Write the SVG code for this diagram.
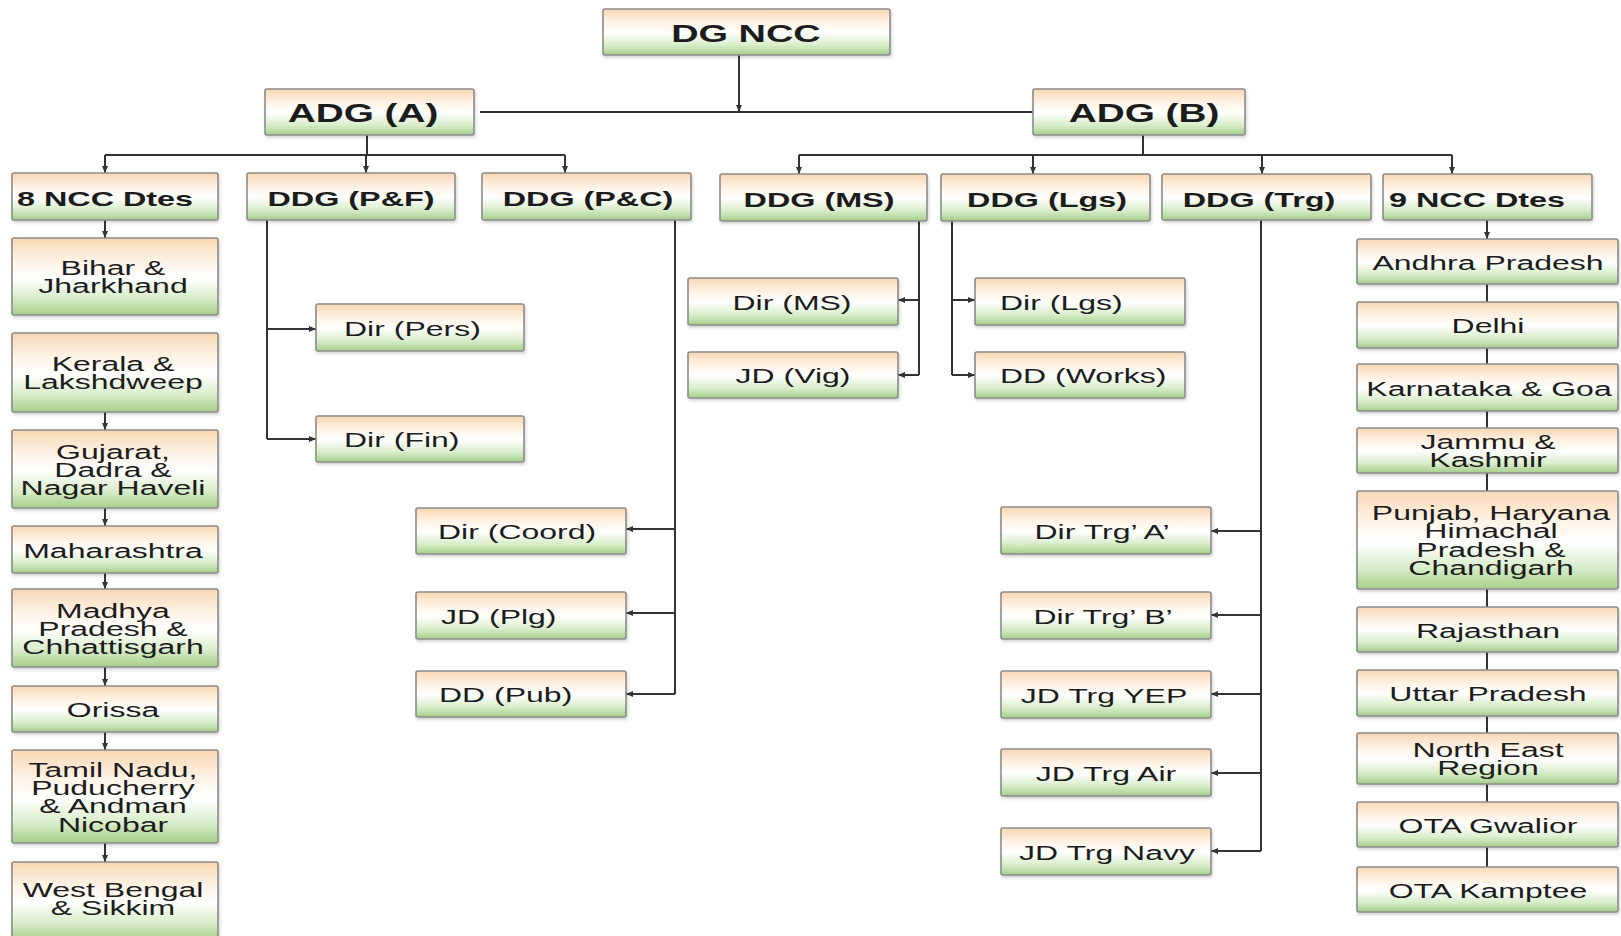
<svg xmlns="http://www.w3.org/2000/svg" width="1621" height="936" viewBox="0 0 1621 936">
<defs>
<linearGradient id="g" x1="0" y1="0" x2="0" y2="1">
<stop offset="0" stop-color="#f9d7b4"/>
<stop offset="0.3" stop-color="#fff3e6"/>
<stop offset="0.52" stop-color="#ffffff"/>
<stop offset="0.78" stop-color="#d9edcb"/>
<stop offset="1" stop-color="#a6cf8a"/>
</linearGradient>
<filter id="sh" x="-5%" y="-10%" width="112%" height="130%">
<feDropShadow dx="1" dy="2" stdDeviation="1.5" flood-color="#000" flood-opacity="0.18"/>
</filter>
<marker id="ar" markerUnits="userSpaceOnUse" markerWidth="7" markerHeight="6" refX="7" refY="3" orient="auto">
<path d="M0,0 L7,3 L0,6 z" fill="#333"/>
</marker>
<style>
rect.b{fill:url(#g);stroke:#8c8c8c;stroke-width:1.6;filter:url(#sh)}
text{font-family:"Liberation Sans",Arial,sans-serif;fill:#1c1c1c}
.t0{font-size:24px;font-weight:bold;text-anchor:middle}
.t1{font-size:25px;font-weight:bold;text-anchor:middle}
.t2{font-size:21px;font-weight:bold;text-anchor:middle}
.t2s{font-size:21px;font-weight:bold;text-anchor:start}
.c{font-size:20px;text-anchor:middle}
.cs{font-size:20px;text-anchor:start}
.ln{fill:none;stroke:#333;stroke-width:2}
.la{fill:none;stroke:#333;stroke-width:2;marker-end:url(#ar)}
</style>
</defs>
<rect width="1621" height="936" fill="#ffffff"/>

<g id="connectors">
<path class="la" d="M739,55 V112"/>
<path class="ln" d="M480,112 H1033"/>
<path class="ln" d="M367,135 V155"/>
<path class="ln" d="M105,155 H565"/>
<path class="la" d="M105,155 V173"/>
<path class="la" d="M366,155 V173"/>
<path class="la" d="M565,155 V173"/>
<path class="ln" d="M1143,135 V155"/>
<path class="ln" d="M799,155 H1452"/>
<path class="la" d="M799,155 V174"/>
<path class="la" d="M1033,155 V174"/>
<path class="la" d="M1262,155 V174"/>
<path class="la" d="M1452,155 V174"/>
<!-- left column -->
<path class="la" d="M105,220 V238"/>
<path class="la" d="M105,412 V430"/>
<path class="la" d="M105,508 V526"/>
<path class="la" d="M105,573 V589"/>
<path class="la" d="M105,667 V686"/>
<path class="la" d="M105,732 V750"/>
<path class="la" d="M105,843 V862"/>
<!-- P&F -->
<path class="ln" d="M267,220 V439"/>
<path class="la" d="M267,329 H316"/>
<path class="la" d="M267,439 H316"/>
<!-- P&C -->
<path class="ln" d="M675,220 V694"/>
<path class="la" d="M675,529 H626"/>
<path class="la" d="M675,613 H626"/>
<path class="la" d="M675,694 H626"/>
<!-- MS -->
<path class="ln" d="M919,221 V375"/>
<path class="la" d="M919,300 H898"/>
<path class="la" d="M919,375 H898"/>
<!-- Lgs -->
<path class="ln" d="M952,221 V375"/>
<path class="la" d="M952,300 H975"/>
<path class="la" d="M952,375 H975"/>
<!-- Trg -->
<path class="ln" d="M1261,220 V851"/>
<path class="la" d="M1261,531 H1211"/>
<path class="la" d="M1261,615 H1211"/>
<path class="la" d="M1261,694 H1211"/>
<path class="la" d="M1261,773 H1211"/>
<path class="la" d="M1261,851 H1211"/>
<!-- right column -->
<path class="la" d="M1487,220 V239"/>
<path class="ln" d="M1487,284 V302 M1487,348 V364 M1487,411 V428 M1487,473 V491 M1487,589 V607 M1487,652 V670 M1487,716 V733 M1487,784 V802 M1487,847 V867"/>
</g>

<g id="dg-ncc"><rect class="b" x="603" y="9" width="287" height="46" rx="2"/><text class="t0" transform="translate(746,42) scale(1.58,1)">DG NCC</text></g>
<g id="adg-a"><rect class="b" x="265" y="89" width="209" height="46" rx="2"/><text class="t1" transform="translate(363,122) scale(1.55,1)">ADG (A)</text></g>
<g id="adg-b"><rect class="b" x="1033" y="89" width="212" height="46" rx="2"/><text class="t1" transform="translate(1144,122) scale(1.55,1)">ADG (B)</text></g>

<g id="ncc8"><rect class="b" x="12" y="173" width="206" height="47" rx="2"/><text class="t2s" transform="translate(17,206) scale(1.54,1)">8 NCC Dtes</text></g>
<g id="ddg-pf"><rect class="b" x="247" y="173" width="208" height="47" rx="2"/><text class="t2" transform="translate(351,206) scale(1.54,1)">DDG (P&amp;F)</text></g>
<g id="ddg-pc"><rect class="b" x="482" y="173" width="209" height="47" rx="2"/><text class="t2" transform="translate(588,206) scale(1.54,1)">DDG (P&amp;C)</text></g>
<g id="ddg-ms"><rect class="b" x="720" y="174" width="207" height="47" rx="2"/><text class="t2" transform="translate(819,207) scale(1.54,1)">DDG (MS)</text></g>
<g id="ddg-lgs"><rect class="b" x="941" y="174" width="209" height="47" rx="2"/><text class="t2" transform="translate(1047,207) scale(1.54,1)">DDG (Lgs)</text></g>
<g id="ddg-trg"><rect class="b" x="1162" y="174" width="209" height="46" rx="2"/><text class="t2" transform="translate(1259,207) scale(1.54,1)">DDG (Trg)</text></g>
<g id="ncc9"><rect class="b" x="1383" y="174" width="209" height="46" rx="2"/><text class="t2s" transform="translate(1389,207) scale(1.54,1)">9 NCC Dtes</text></g>

<g id="bihar"><rect class="b" x="12" y="238" width="206" height="77" rx="2"/><text class="c" transform="translate(113,275) scale(1.6,1)"><tspan x="0">Bihar &amp;</tspan><tspan x="0" dy="18.5">Jharkhand</tspan></text></g>
<g id="kerala"><rect class="b" x="12" y="333" width="206" height="79" rx="2"/><text class="c" transform="translate(113,371) scale(1.6,1)"><tspan x="0">Kerala &amp;</tspan><tspan x="0" dy="18.5">Lakshdweep</tspan></text></g>
<g id="gujarat"><rect class="b" x="12" y="430" width="206" height="78" rx="2"/><text class="c" transform="translate(113,458.5) scale(1.6,1)"><tspan x="0">Gujarat,</tspan><tspan x="0" dy="18.5">Dadra &amp;</tspan><tspan x="0" dy="18.5">Nagar Haveli</tspan></text></g>
<g id="maharashtra"><rect class="b" x="12" y="526" width="206" height="47" rx="2"/><text class="c" transform="translate(113,557.5) scale(1.6,1)">Maharashtra</text></g>
<g id="madhya"><rect class="b" x="12" y="589" width="206" height="78" rx="2"/><text class="c" transform="translate(113,617.5) scale(1.6,1)"><tspan x="0">Madhya</tspan><tspan x="0" dy="18.5">Pradesh &amp;</tspan><tspan x="0" dy="18.5">Chhattisgarh</tspan></text></g>
<g id="orissa"><rect class="b" x="12" y="686" width="206" height="46" rx="2"/><text class="c" transform="translate(113,717) scale(1.6,1)">Orissa</text></g>
<g id="tamil"><rect class="b" x="12" y="750" width="206" height="93" rx="2"/><text class="c" transform="translate(113,776.5) scale(1.6,1)"><tspan x="0">Tamil Nadu,</tspan><tspan x="0" dy="18.5">Puducherry</tspan><tspan x="0" dy="18.5">&amp; Andman</tspan><tspan x="0" dy="18.5">Nicobar</tspan></text></g>
<g id="westbengal"><rect class="b" x="12" y="862" width="206" height="78" rx="2"/><text class="c" transform="translate(113,897) scale(1.6,1)"><tspan x="0">West Bengal</tspan><tspan x="0" dy="18.5">&amp; Sikkim</tspan></text></g>

<g id="dir-pers"><rect class="b" x="316" y="304" width="208" height="47" rx="2"/><text class="cs" transform="translate(344,335.5) scale(1.6,1)">Dir (Pers)</text></g>
<g id="dir-fin"><rect class="b" x="316" y="416" width="208" height="46" rx="2"/><text class="cs" transform="translate(344,447) scale(1.6,1)">Dir (Fin)</text></g>
<g id="dir-coord"><rect class="b" x="416" y="508" width="210" height="46" rx="2"/><text class="cs" transform="translate(438,539) scale(1.6,1)">Dir (Coord)</text></g>
<g id="jd-plg"><rect class="b" x="416" y="592" width="210" height="47" rx="2"/><text class="cs" transform="translate(441,623.5) scale(1.6,1)">JD (Plg)</text></g>
<g id="dd-pub"><rect class="b" x="416" y="671" width="210" height="46" rx="2"/><text class="cs" transform="translate(439,702) scale(1.6,1)">DD (Pub)</text></g>

<g id="dir-ms"><rect class="b" x="688" y="278" width="210" height="47" rx="2"/><text class="c" transform="translate(792,309.5) scale(1.6,1)">Dir (MS)</text></g>
<g id="jd-vig"><rect class="b" x="688" y="352" width="210" height="46" rx="2"/><text class="c" transform="translate(793,383) scale(1.6,1)">JD (Vig)</text></g>
<g id="dir-lgs"><rect class="b" x="975" y="278" width="210" height="47" rx="2"/><text class="cs" transform="translate(1000,309.5) scale(1.6,1)">Dir (Lgs)</text></g>
<g id="dd-works"><rect class="b" x="975" y="352" width="210" height="46" rx="2"/><text class="cs" transform="translate(1000,383) scale(1.6,1)">DD (Works)</text></g>

<g id="dir-trg-a"><rect class="b" x="1001" y="507" width="210" height="47" rx="2"/><text class="c" transform="translate(1102,538.5) scale(1.6,1)">Dir Trg’ A’</text></g>
<g id="dir-trg-b"><rect class="b" x="1001" y="592" width="210" height="47" rx="2"/><text class="c" transform="translate(1103,623.5) scale(1.6,1)">Dir Trg’ B’</text></g>
<g id="jd-trg-yep"><rect class="b" x="1001" y="671" width="210" height="47" rx="2"/><text class="c" transform="translate(1104,702.5) scale(1.6,1)">JD Trg YEP</text></g>
<g id="jd-trg-air"><rect class="b" x="1001" y="749" width="210" height="47" rx="2"/><text class="c" transform="translate(1106,780.5) scale(1.6,1)">JD Trg Air</text></g>
<g id="jd-trg-navy"><rect class="b" x="1001" y="828" width="210" height="47" rx="2"/><text class="c" transform="translate(1107,859.5) scale(1.6,1)">JD Trg Navy</text></g>

<g id="andhra"><rect class="b" x="1357" y="239" width="261" height="45" rx="2"/><text class="c" transform="translate(1488,269.5) scale(1.6,1)">Andhra Pradesh</text></g>
<g id="delhi"><rect class="b" x="1357" y="302" width="261" height="46" rx="2"/><text class="c" transform="translate(1488,333) scale(1.6,1)">Delhi</text></g>
<g id="karnataka"><rect class="b" x="1357" y="364" width="261" height="47" rx="2"/><text class="c" transform="translate(1489,395.5) scale(1.6,1)">Karnataka &amp; Goa</text></g>
<g id="jammu"><rect class="b" x="1357" y="428" width="261" height="45" rx="2"/><text class="c" transform="translate(1488,449) scale(1.6,1)"><tspan x="0">Jammu &amp;</tspan><tspan x="0" dy="18.5">Kashmir</tspan></text></g>
<g id="punjab"><rect class="b" x="1357" y="491" width="261" height="98" rx="2"/><text class="c" transform="translate(1491,520) scale(1.6,1)"><tspan x="0">Punjab, Haryana</tspan><tspan x="0" dy="18.5">Himachal</tspan><tspan x="0" dy="18.5">Pradesh &amp;</tspan><tspan x="0" dy="18.5">Chandigarh</tspan></text></g>
<g id="rajasthan"><rect class="b" x="1357" y="607" width="261" height="45" rx="2"/><text class="c" transform="translate(1488,637.5) scale(1.6,1)">Rajasthan</text></g>
<g id="uttar"><rect class="b" x="1357" y="670" width="261" height="46" rx="2"/><text class="c" transform="translate(1488,701) scale(1.6,1)">Uttar Pradesh</text></g>
<g id="northeast"><rect class="b" x="1357" y="733" width="261" height="51" rx="2"/><text class="c" transform="translate(1488,757) scale(1.6,1)"><tspan x="0">North East</tspan><tspan x="0" dy="18.5">Region</tspan></text></g>
<g id="ota-gwalior"><rect class="b" x="1357" y="802" width="261" height="45" rx="2"/><text class="c" transform="translate(1488,832.5) scale(1.6,1)">OTA Gwalior</text></g>
<g id="ota-kamptee"><rect class="b" x="1357" y="867" width="261" height="45" rx="2"/><text class="c" transform="translate(1488,897.5) scale(1.6,1)">OTA Kamptee</text></g>
</svg>
